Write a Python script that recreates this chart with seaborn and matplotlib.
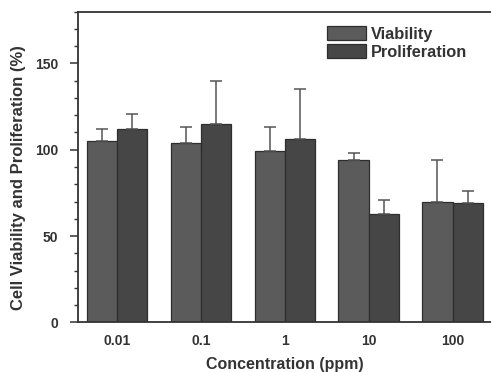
import numpy as np
import pandas as pd
import matplotlib
matplotlib.use("Agg")
import matplotlib.pyplot as plt
from matplotlib.ticker import MultipleLocator
import seaborn as sns

# Data: mean (%) and upper standard deviation per concentration
concentrations = ["0.01", "0.1", "1", "10", "100"]
viability = [105, 104, 99, 94, 70]
viability_sd = [7, 9, 14, 4, 24]
proliferation = [112, 115, 106, 63, 69]
proliferation_sd = [9, 25, 29, 8, 7]
series_names = ["Viability", "Proliferation"]

sns.set_style("ticks")
plt.rcParams["font.family"] = ["Liberation Sans", "DejaVu Sans"]
plt.rcParams["font.weight"] = "bold"

df = pd.DataFrame({
    "Concentration": concentrations * 2,
    "value": viability + proliferation,
    "series": [series_names[0]] * len(concentrations) + [series_names[1]] * len(concentrations),
})

W, H = 491, 372
fig = plt.figure(figsize=(W / 100, H / 100), dpi=100)
ax_left, ax_bottom, ax_right, ax_top = 77.5, 372 - 322.3, 492, 372 - 11.7
ax = fig.add_axes([ax_left / W, ax_bottom / H, (ax_right - ax_left) / W, (ax_top - ax_bottom) / H])

sns.barplot(
    data=df, x="Concentration", y="value", hue="series",
    palette=["#5b5b5b", "#464646"], saturation=1, width=0.72,
    errorbar=None, edgecolor="#2e2e2e", linewidth=0.9, ax=ax,
)

# One-sided (upward) error bars placed on the drawn bars
for container, sd in zip(ax.containers, [viability_sd, proliferation_sd]):
    xs = [p.get_x() + p.get_width() / 2 for p in container.patches]
    hs = [p.get_height() for p in container.patches]
    ax.errorbar(xs, hs, yerr=[np.zeros(len(sd)), sd], fmt="none",
                ecolor="#555555", elinewidth=1.1, capsize=4.3, capthick=1.1, zorder=1)

ax.set_ylim(0, 180)
ax.set_xlim(-0.47, 4.47)
ax.yaxis.set_major_locator(MultipleLocator(50))
ax.yaxis.set_minor_locator(MultipleLocator(10))

for side in ["left", "bottom", "top"]:
    ax.spines[side].set_linewidth(1.3)
    ax.spines[side].set_color("#333333")
ax.spines["right"].set_visible(False)

ax.tick_params(axis="y", which="major", length=5.8, width=1.1, color="#333333",
               pad=8.0, labelsize=10, labelcolor="#333333")
ax.tick_params(axis="y", which="minor", length=2.9, width=1.0, color="#333333")
ax.tick_params(axis="x", length=0, pad=8.6, labelsize=10, labelcolor="#333333")
for lbl in ax.get_xticklabels() + ax.get_yticklabels():
    lbl.set_fontweight("bold")

ax.set_xlabel("Concentration (ppm)", fontsize=11.5, fontweight="bold", color="#333333", va="center")
ax.xaxis.set_label_coords(0.5, -0.137)
ax.set_ylabel("Cell Viability and Proliferation (%)", fontsize=12, fontweight="bold",
              color="#333333", va="center")
ax.yaxis.set_label_coords(-0.142, 0.466)

handles, labels = ax.get_legend_handles_labels()
ax.legend(handles, labels, loc="upper left", bbox_to_anchor=(327 / W, 1 - 26 / H),
          bbox_transform=fig.transFigure, frameon=False, borderpad=0, borderaxespad=0,
          handlelength=2.4, handleheight=0.95, handletextpad=0.3, labelspacing=0.16,
          prop={"size": 11.8, "weight": "bold"}, labelcolor="#333333")

fig.savefig("out.png", dpi=100)
